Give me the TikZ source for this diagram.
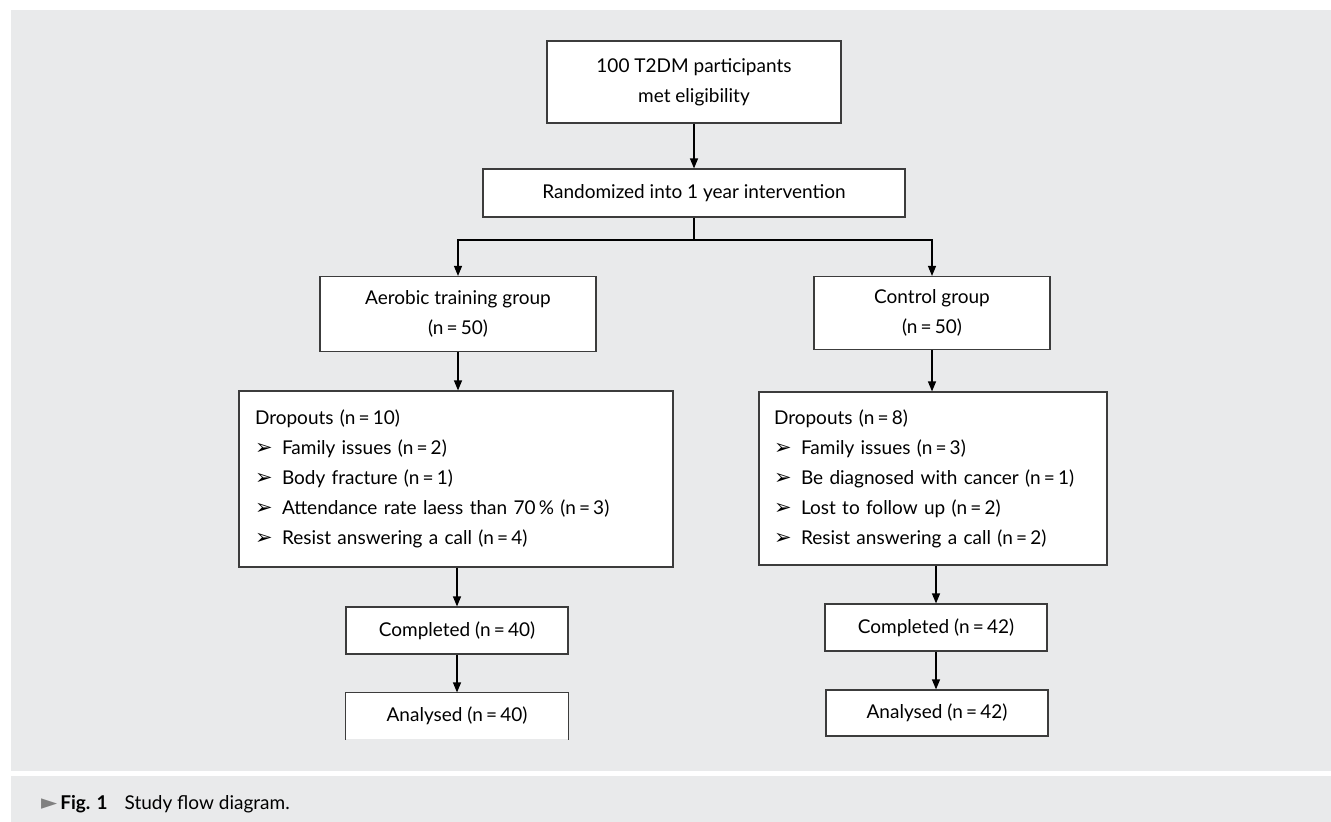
\documentclass[tikz,border=0pt]{standalone}
\usepackage{fontspec}
\setmainfont{Lato}
\newfontfamily\symfont{DejaVu Sans}
\usetikzlibrary{arrows.meta}

\definecolor{panel}{RGB}{233,234,235}
\definecolor{frame}{RGB}{60,60,60}
\newcommand{\bul}{\makebox[27pt][l]{\symfont\fontsize{21}{21}\selectfont ➢}}
\newcommand{\nn}[1]{(n\,=\,#1)}

\begin{document}
\begin{tikzpicture}[x=1pt, y=-1pt, every node/.style={font=\fontsize{19}{30}\selectfont}]
\tikzstyle{box}=[rectangle, draw=frame, line width=1.2pt, fill=white, inner sep=0pt, align=center]
\tikzstyle{list}=[box, align=left]
\tikzstyle{connect}=[-{Triangle[length=10pt, width=8pt]}, line width=1.2pt]
    \useasboundingbox (0,0) rectangle (1331,822);
    \fill[panel] (11,10) rectangle (1331,771);
    \fill[panel] (11,776) rectangle (1331,822);

    \node[box, minimum width=294pt, minimum height=82pt] (elig) at (694,82) {100 T2DM participants\\met eligibility};
    \node[box, minimum width=422pt, minimum height=48pt] (rand) at (694,193) {Randomized into 1 year intervention};
    \coordinate (split) at (694,240);
    \node[box, minimum width=276pt, minimum height=75pt] (aer) at (458,314) {Aerobic training group\\\nn{50}};
    \node[box, minimum width=236pt, minimum height=73pt] (ctrl) at (932,313) {Control group\\\nn{50}};

    \node[list, inner xsep=16pt, text width=402pt, minimum height=176pt] (dropA) at (456,479) {Dropouts \nn{10}\\
        \bul Family issues \nn{2}\\
        \bul Body fracture \nn{1}\\
        \bul Attendance rate laess than 70\,\% \nn{3}\\
        \bul Resist answering a call \nn{4}};
    \node[list, inner xsep=15pt, text width=318pt, minimum height=173pt] (dropC) at (933,478.5) {Dropouts \nn{8}\\
        \bul Family issues \nn{3}\\
        \bul Be diagnosed with cancer \nn{1}\\
        \bul Lost to follow up \nn{2}\\
        \bul Resist answering a call \nn{2}};

    \node[box, minimum width=222pt, minimum height=47pt] (compA) at (457,630.5) {Completed \nn{40}};
    \node[box, draw=none, minimum width=222pt, minimum height=46pt] (analA) at (457,716) {Analysed \nn{40}};
    \draw[frame, line width=1.2pt] (analA.south west) -- (analA.north west) -- (analA.north east) -- (analA.south east);
    \node[box, minimum width=222pt, minimum height=47pt] (compC) at (936,627.5) {Completed \nn{42}};
    \node[box, minimum width=222pt, minimum height=46pt] (analC) at (937,713) {Analysed \nn{42}};

    % connectors
    \draw[connect] (elig.south) -- (elig.south |- rand.north);
    \draw[line width=1.2pt] (rand.south) -- (split);
    \draw[connect] (split) -| (aer.north);
    \draw[connect] (split) -| (ctrl.north);
    \draw[connect] (aer.south) -- (aer.south |- dropA.north);
    \draw[connect] (ctrl.south) -- (ctrl.south |- dropC.north);
    \draw[connect] (compA.north |- dropA.south) -- (compA.north);
    \draw[connect] (compA.south) -- (compA.south |- analA.north);
    \draw[connect] (compC.north |- dropC.south) -- (compC.north);
    \draw[connect] (compC.south) -- (compC.south |- analC.north);

    % caption
    \node[anchor=base west, inner sep=0pt] (cap) at (41,809) {{\symfont\color{gray}\fontsize{21}{21}\selectfont ►}\hspace{3pt}\textbf{Fig. 1}\hspace{17pt}Study flow diagram.};
\end{tikzpicture}
\end{document}
